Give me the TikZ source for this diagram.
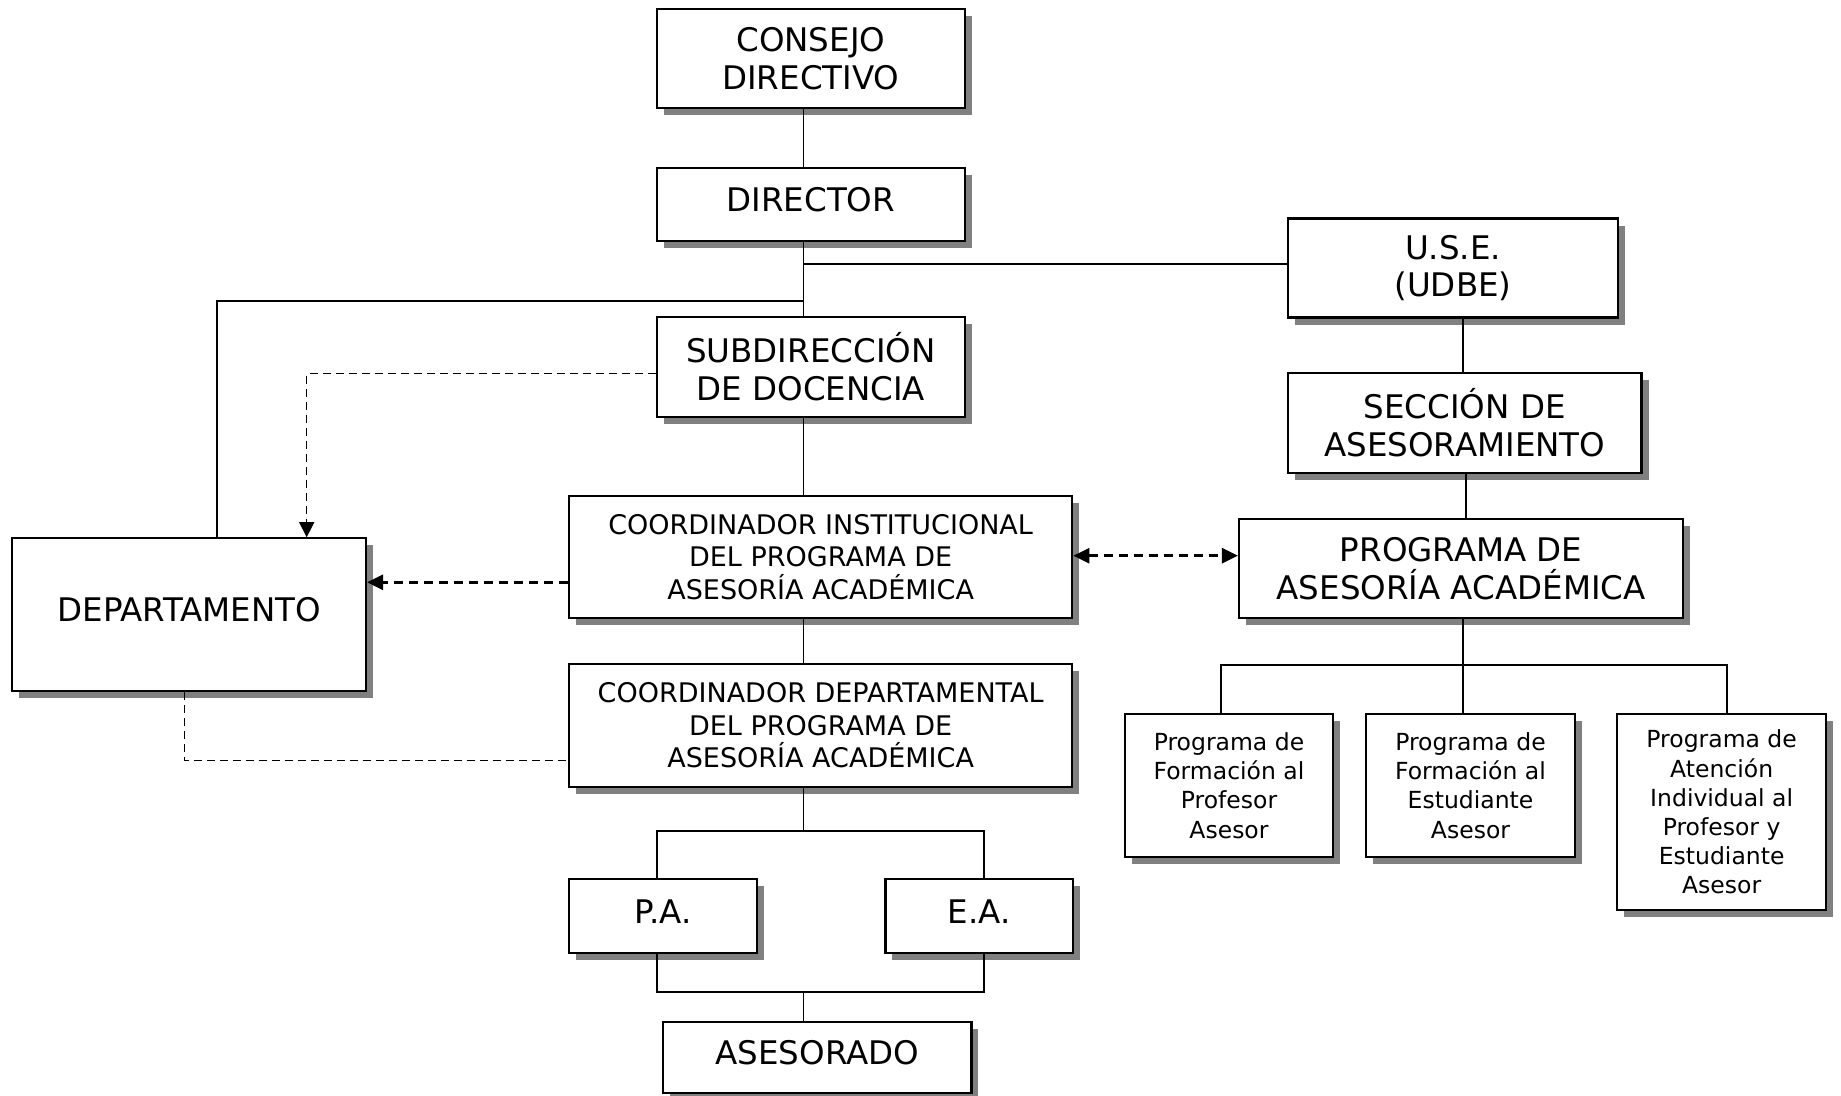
\documentclass[tikz,border=0pt]{standalone}
\usepackage{fontspec}
\setmainfont{DejaVu Sans}
\usetikzlibrary{arrows.meta,shadows}
\begin{document}
\begin{tikzpicture}[x=1pt,y=-1pt,
  box/.style={draw, line width=2.2pt, fill=white, inner sep=0pt, align=center,
    drop shadow={shadow xshift=7pt, shadow yshift=-7pt, fill=black!50, opacity=1}},
  big/.style={font=\fontsize{32.5}{37.7}\selectfont},
  med/.style={font=\fontsize{27}{32.5}\selectfont},
  sml/.style={font=\fontsize{23.5}{29.2}\selectfont},
  one/.style={text depth=10pt},
  conn/.style={draw, line width=1.8pt},
  thindash/.style={draw, line width=1.5pt, dash pattern=on 8pt off 5pt},
  thickdash/.style={draw, line width=2.7pt, dash pattern=on 9pt off 6pt},
  tipA/.style={-{Triangle[length=15pt,width=15pt]}},
  tipB/.style={-{Triangle[length=16pt,width=15pt]}},
  tipBB/.style={{Triangle[length=16pt,width=15pt]}-{Triangle[length=16pt,width=15pt]}}
]
\useasboundingbox (0,0) rectangle (1841,1095);

% nodes
\node[box,big,minimum width=308.3pt,minimum height=99pt] (cd) at (810.85,58.8) {CONSEJO\\DIRECTIVO};
\node[box,big,one,minimum width=308.3pt,minimum height=72.4pt] (dir) at (810.85,204.5) {DIRECTOR};
\node[box,big,minimum width=308.3pt,minimum height=99.4pt] (sub) at (810.85,367) {SUBDIRECCIÓN\\DE DOCENCIA};
\node[box,big,minimum width=330pt,minimum height=99pt] (use) at (1453,268) {U.S.E.\\(UDBE)};
\node[box,big,minimum width=353.5pt,minimum height=99.4pt] (sec) at (1464.75,423) {SECCIÓN DE\\ASESORAMIENTO};
\node[box,big,minimum width=444.3pt,minimum height=99.3pt] (prog) at (1461.15,568.65) {PROGRAMA DE\\ASESORÍA ACADÉMICA};
\node[box,med,minimum width=503.3pt,minimum height=122pt] (ci) at (820.65,556.7) {COORDINADOR INSTITUCIONAL\\DEL PROGRAMA DE\\ASESORÍA ACADÉMICA};
\node[box,med,minimum width=503.3pt,minimum height=122.4pt] (cdp) at (820.65,725.5) {COORDINADOR DEPARTAMENTAL\\DEL PROGRAMA DE\\ASESORÍA ACADÉMICA};
\node[box,big,one,minimum width=353.7pt,minimum height=152.7pt] (dep) at (189.15,614.65) {DEPARTAMENTO};
\node[box,sml,minimum width=208.6pt,minimum height=142.4pt] (s1) at (1229,785.5) {Programa de\\Formación al\\Profesor\\Asesor};
\node[box,sml,minimum width=209pt,minimum height=142.4pt] (s2) at (1470.5,785.5) {Programa de\\Formación al\\Estudiante\\Asesor};
\node[box,sml,minimum width=208.7pt,minimum height=195.7pt] (s3) at (1721.65,812.15) {Programa de\\Atención\\Individual al\\Profesor y\\Estudiante\\Asesor};
\node[box,big,one,minimum width=187.8pt,minimum height=74pt] (pa) at (663.2,916.3) {P.A.};
\node[box,big,one,minimum width=187.8pt,minimum height=74pt] (ea) at (979.3,916.3) {E.A.};
\node[box,big,one,minimum width=308.2pt,minimum height=71pt] (ase) at (817.3,1057.5) {ASESORADO};

% helper coordinates
\coordinate (xm) at (803.5,0);
\coordinate (j1) at (803.5,264.3);
\coordinate (j2) at (803.5,300.7);
\coordinate (l1) at (216.7,300.7);
\coordinate (k1) at (803.5,830.7);
\coordinate (k1a) at (657.1,830.7);
\coordinate (k1b) at (983.6,830.7);
\coordinate (k2) at (803.5,992);
\coordinate (k2a) at (657.1,992);
\coordinate (k2b) at (983.6,992);
\coordinate (r1) at (1463.3,664.7);
\coordinate (r1a) at (1220.7,664.7);
\coordinate (r1c) at (1727.3,664.7);
\coordinate (xs) at (1466,0);
\coordinate (d1) at (306.7,373.5);
\coordinate (d2) at (184.5,760.7);
\coordinate (yl) at (0,582.3);
\coordinate (yr) at (0,555.7);

% solid connectors
\path[conn] (cd.south -| xm) -- (dir.north -| xm);
\path[conn] (dir.south -| xm) -- (sub.north -| xm);
\path[conn] (j1) -- (use.west |- j1);
\path[conn] (j2) -- (l1) -- (dep.north -| l1);
\path[conn] (sub.south -| xm) -- (ci.north -| xm);
\path[conn] (ci.south -| xm) -- (cdp.north -| xm);
\path[conn] (cdp.south -| xm) -- (k1);
\path[conn] (pa.north -| k1a) -- (k1a) -- (k1b) -- (ea.north -| k1b);
\path[conn] (pa.south -| k2a) -- (k2a) -- (k2b) -- (ea.south -| k2b);
\path[conn] (k2) -- (ase.north -| k2);
\path[conn] (use.south -| r1) -- (sec.north -| r1);
\path[conn] (sec.south -| xs) -- (prog.north -| xs);
\path[conn] (prog.south -| r1) -- (r1);
\path[conn] (s1.north -| r1a) -- (r1a) -- (r1c) -- (s3.north -| r1c);
\path[conn] (r1) -- (s2.north -| r1);

% dashed connectors
\path[thindash,tipA] (sub.west |- d1) -- (d1) -- (dep.north -| d1);
\path[thindash] (dep.south -| d2) -- (d2) -- (cdp.west |- d2);
\path[thickdash,tipB] (ci.west |- yl) -- (dep.east |- yl);
\path[thickdash,tipBB] (ci.east |- yr) -- (prog.west |- yr);
\end{tikzpicture}
\end{document}
